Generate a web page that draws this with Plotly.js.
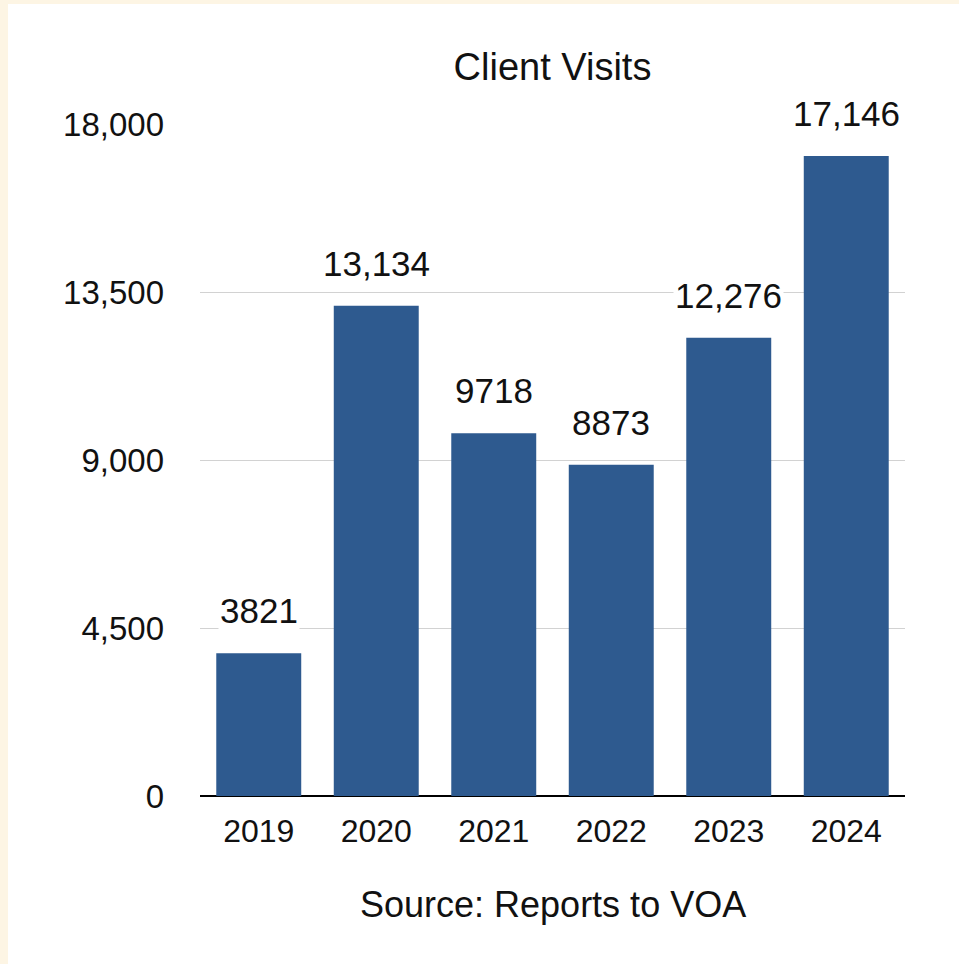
<!DOCTYPE html>
<html>
<head>
<meta charset="utf-8">
<script src="https://cdn.plot.ly/plotly-3.0.1.min.js"></script>
<style>
  html, body { margin: 0; padding: 0; background: #fdf5e4; width: 959px; height: 964px; overflow: hidden; }
  #chart { position: absolute; left: 8px; top: 4px; width: 951px; height: 960px; background: #ffffff; }
</style>
</head>
<body>
<div id="chart"></div>
<script>
const years = ['2019', '2020', '2021', '2022', '2023', '2024'];
const visits = [3821, 13134, 9718, 8873, 12276, 17146];
const valueLabels = ['3821', '13,134', '9718', '8873', '12,276', '17,146'];
const yTicks = [0, 4500, 9000, 13500, 18000];
const yTickText = ['0', '4,500', '9,000', '13,500', '18,000'];

const FONT = '"Liberation Sans", Arial, Helvetica, sans-serif';

const trace = {
  type: 'bar',
  x: years,
  y: visits,
  marker: { color: '#2e5a8f' },
  hoverinfo: 'none'
};

const labelAnnotations = years.map((yr, i) => ({
  x: i, y: visits[i], xref: 'x', yref: 'y',
  text: valueLabels[i], showarrow: false,
  yanchor: 'bottom', yshift: 21,
  bgcolor: '#ffffff',
  font: { family: FONT, size: 35, color: '#111111' }
}));

labelAnnotations.push({
  x: 0.5, y: -0.162, xref: 'paper', yref: 'paper',
  text: 'Source: Reports to VOA', showarrow: false,
  xanchor: 'center', yanchor: 'middle',
  font: { family: FONT, size: 36, color: '#111111' }
});

const layout = {
  width: 951, height: 960,
  paper_bgcolor: '#ffffff', plot_bgcolor: '#ffffff',
  margin: { l: 192, r: 54, t: 120, b: 168 },
  title: {
    text: 'Client Visits',
    x: 0.5, xref: 'paper', xanchor: 'center',
    y: 0.935, yref: 'container', yanchor: 'middle',
    font: { family: FONT, size: 38, color: '#111111' }
  },
  bargap: 0.277,
  showlegend: false,
  xaxis: {
    type: 'category',
    range: [-0.5, years.length - 0.5],
    autorange: false,
    showgrid: false,
    showline: false,
    zeroline: false,
    ticks: '',
    ticklabelstandoff: 13,
    tickfont: { family: FONT, size: 32, color: '#111111' }
  },
  yaxis: {
    range: [0, 18000],
    autorange: false,
    tickvals: yTicks,
    ticktext: yTickText,
    showgrid: true,
    gridcolor: '#d2d2d2',
    gridwidth: 1,
    zeroline: true,
    zerolinecolor: '#000000',
    zerolinewidth: 2.5,
    showline: false,
    ticks: '',
    ticklabelstandoff: 35,
    tickfont: { family: FONT, size: 33, color: '#111111' }
  },
  annotations: labelAnnotations
};

Plotly.newPlot('chart', [trace], layout, { staticPlot: true, displayModeBar: false });
</script>
</body>
</html>
